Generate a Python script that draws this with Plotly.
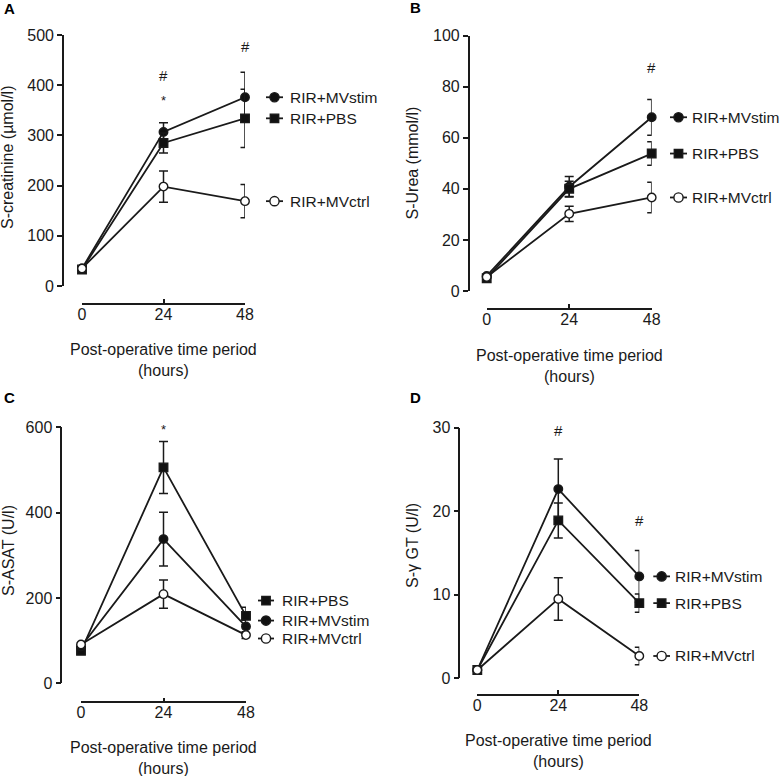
import plotly.graph_objects as go

W, H = 781, 776

hours = [0, 24, 48]
hour_labels = ["0", "24", "48"]

# Panel A: S-creatinine (µmol/l)
creat_mvstim = [35, 307, 376]
creat_mvstim_err = [0, 18, 50]
creat_pbs = [33, 285, 334]
creat_pbs_err = [0, 20, 58]
creat_mvctrl = [35, 198, 169]
creat_mvctrl_err = [0, 31, 33]

# Panel B: S-Urea (mmol/l)
urea_mvstim = [5.9, 40.8, 68]
urea_mvstim_err = [0, 4, 7]
urea_pbs = [5.0, 40, 53.8]
urea_pbs_err = [0, 3, 4.6]
urea_mvctrl = [5.5, 30.2, 36.6]
urea_mvctrl_err = [0, 3, 6]

# Panel C: S-ASAT (U/l)
asat_pbs = [76, 506, 158]
asat_pbs_err = [0, 61, 20]
asat_mvstim = [86, 338, 133]
asat_mvstim_err = [0, 63, 15]
asat_mvctrl = [91, 209, 113]
asat_mvctrl_err = [0, 33, 8]

# Panel D: S-γGT (U/l)
ggt_mvstim = [1.0, 22.65, 12.2]
ggt_mvstim_err = [0, 3.6, 3.1]
ggt_pbs = [1.0, 18.9, 9.0]
ggt_pbs_err = [0, 2.1, 1.1]
ggt_mvctrl = [1.0, 9.5, 2.67]
ggt_mvctrl_err = [0, 2.55, 1.05]

# legend label heights (data units)
legend_a = [376, 334, 169]
legend_b = [68, 53.8, 36.6]
legend_c = [194, 147, 105]
legend_d = [12.2, 9.0, 2.67]

STYLE = {
    "RIR+MVstim": dict(symbol="circle", color="#111111"),
    "RIR+PBS": dict(symbol="square", color="#111111"),
    "RIR+MVctrl": dict(symbol="circle", color="white"),
}

panels = [
    dict(letter="A", ytitle="S-creatinine (µmol/l)", ymax=500, dtick=100,
         series=[("RIR+MVstim", creat_mvstim, creat_mvstim_err),
                 ("RIR+PBS", creat_pbs, creat_pbs_err),
                 ("RIR+MVctrl", creat_mvctrl, creat_mvctrl_err)],
         legend=legend_a,
         marks=[(24, 419, "#"), (24, 369, "*"), (48, 478, "#")],
         g=dict(yax=63, ytop=35, ybot=286, xline=304, x0=82, x48=245,
                lx0=266, lx1=283, tx=287.5, letter=(2, 9), ytit=(8, 158), xtit=360)),
    dict(letter="B", ytitle="S-Urea (mmol/l)", ymax=100, dtick=20,
         series=[("RIR+MVstim", urea_mvstim, urea_mvstim_err),
                 ("RIR+PBS", urea_pbs, urea_pbs_err),
                 ("RIR+MVctrl", urea_mvctrl, urea_mvctrl_err)],
         legend=legend_b,
         marks=[(48, 87.6, "#")],
         g=dict(yax=468.7, ytop=35.5, ybot=291, xline=309, x0=486.7, x48=651.7,
                lx0=670, lx1=687, tx=690, letter=(408, 8), ytit=(411.5, 163), xtit=365.5)),
    dict(letter="C", ytitle="S-ASAT (U/l)", ymax=600, dtick=200,
         series=[("RIR+PBS", asat_pbs, asat_pbs_err),
                 ("RIR+MVstim", asat_mvstim, asat_mvstim_err),
                 ("RIR+MVctrl", asat_mvctrl, asat_mvctrl_err)],
         legend=legend_c,
         marks=[(24, 596, "*")],
         g=dict(yax=61.3, ytop=427.3, ybot=683.3, xline=702.3, x0=81, x48=246,
                lx0=258, lx1=274, tx=279.5, letter=(2, 398), ytit=(8, 551), xtit=757.5)),
    dict(letter="D", ytitle="S-γ GT (U/l)", ymax=30, dtick=10,
         series=[("RIR+MVstim", ggt_mvstim, ggt_mvstim_err),
                 ("RIR+PBS", ggt_pbs, ggt_pbs_err),
                 ("RIR+MVctrl", ggt_mvctrl, ggt_mvctrl_err)],
         legend=legend_d,
         marks=[(24, 29.7, "#"), (48, 18.95, "#")],
         g=dict(yax=459.3, ytop=427.7, ybot=678.3, xline=695, x0=477.3, x48=639.3,
                lx0=653.3, lx1=670, tx=672.5, letter=(408, 398), ytit=(412, 546), xtit=751)),
]


def fx(px):
    return px / W


def fy(py):
    return 1 - py / H


FONT = "Liberation Sans, Arial, sans-serif"
INK = "#1a1a1a"
FS = 16
FS_LEG = 15.5

fig = go.Figure()
layout = dict(
    width=W, height=H, margin=dict(l=0, r=0, t=0, b=0, autoexpand=False),
    paper_bgcolor="white", plot_bgcolor="white", showlegend=False,
    font=dict(family=FONT, size=FS, color=INK),
)
annotations = []
shapes = []

for i, p in enumerate(panels):
    n = i + 1
    g = p["g"]
    xa = "x" if n == 1 else f"x{n}"
    ya = "y" if n == 1 else f"y{n}"
    xkey = "xaxis" if n == 1 else f"xaxis{n}"
    ykey = "yaxis" if n == 1 else f"yaxis{n}"

    layout[xkey] = dict(
        domain=[fx(g["x0"]), fx(g["x48"])], range=[0, 48],
        anchor="free", position=fy(g["xline"]), automargin=False,
        tickvals=hours, ticktext=hour_labels,
        showline=True, linecolor=INK, linewidth=1.6,
        ticks="inside", ticklen=4, tickwidth=1.6, tickcolor=INK,
        ticklabelstandoff=-4,
        showgrid=False, zeroline=False, fixedrange=True,
        tickfont=dict(size=FS, family=FONT, color=INK),
    )
    layout[ykey] = dict(
        domain=[fy(g["ybot"]), fy(g["ytop"])], range=[0, p["ymax"]],
        anchor="free", position=fx(g["yax"]), automargin=False,
        dtick=p["dtick"], tick0=0,
        showline=True, linecolor=INK, linewidth=1.6,
        ticks="outside", ticklen=5, tickwidth=1.6, tickcolor=INK,
        showgrid=False, zeroline=False, fixedrange=True,
        tickfont=dict(size=FS, family=FONT, color=INK),
    )

    for name, vals, errs in p["series"]:
        st = STYLE[name]
        fig.add_trace(go.Scatter(
            x=hours, y=vals, name=name, mode="lines+markers",
            xaxis=xa, yaxis=ya, cliponaxis=False,
            line=dict(color=INK, width=1.8),
            marker=dict(symbol=st["symbol"], size=8.5, color=st["color"],
                        line=dict(color=INK, width=1.4)),
            error_y=dict(type="data", array=errs, symmetric=True,
                         color=INK, thickness=1.5, width=4.5),
        ))

    # legend keys aligned at right of each panel (line + marker + label)
    mxp = (g["lx0"] + g["lx1"]) / 2
    for (name, vals, errs), ly in zip(p["series"], p["legend"]):
        st = STYLE[name]
        py = g["ybot"] - (ly / p["ymax"]) * (g["ybot"] - g["ytop"])
        shapes.append(dict(type="line", xref="paper", yref="paper",
                           x0=fx(g["lx0"]), x1=fx(g["lx1"]), y0=fy(py), y1=fy(py),
                           line=dict(color=INK, width=1.8)))
        r = 4.6 if st["symbol"] == "circle" else 4.2
        shapes.append(dict(type="circle" if st["symbol"] == "circle" else "rect",
                           xref="paper", yref="paper",
                           x0=fx(mxp - r), x1=fx(mxp + r), y0=fy(py + r), y1=fy(py - r),
                           fillcolor=st["color"], line=dict(color=INK, width=1.4)))
        annotations.append(dict(
            text=name, xref="paper", yref="paper", x=fx(g["tx"]), y=fy(py),
            xanchor="left", yanchor="middle", showarrow=False,
            font=dict(size=FS_LEG, family=FONT, color=INK)))

    for hx, hy, sym in p["marks"]:
        annotations.append(dict(
            text=sym, xref=xa, yref=ya, x=hx, y=hy, showarrow=False,
            xanchor="center", yanchor="middle",
            font=dict(size=15 if sym == "#" else 13, family=FONT, color=INK)))

    # panel letter
    lx, lyy = g["letter"]
    annotations.append(dict(
        text="<b>%s</b>" % p["letter"], xref="paper", yref="paper",
        x=fx(lx), y=fy(lyy), xanchor="left", yanchor="middle", showarrow=False,
        font=dict(size=15, family=FONT, color="#000000")))

    # y title
    tx, ty = g["ytit"]
    annotations.append(dict(
        text=p["ytitle"], xref="paper", yref="paper", x=fx(tx), y=fy(ty),
        xanchor="center", yanchor="middle", textangle=-90, showarrow=False,
        font=dict(size=FS, family=FONT, color=INK)))

    # x title
    annotations.append(dict(
        text="Post-operative time period<br>(hours)", xref="paper", yref="paper",
        x=fx((g["x0"] + g["x48"]) / 2), y=fy(g["xtit"]),
        xanchor="center", yanchor="middle", showarrow=False,
        font=dict(size=FS, family=FONT, color=INK)))

layout["annotations"] = annotations
layout["shapes"] = shapes
fig.update_layout(**layout)
fig.write_html("out.html", config={"displayModeBar": False},
               post_script="document.body.style.margin='0';")
